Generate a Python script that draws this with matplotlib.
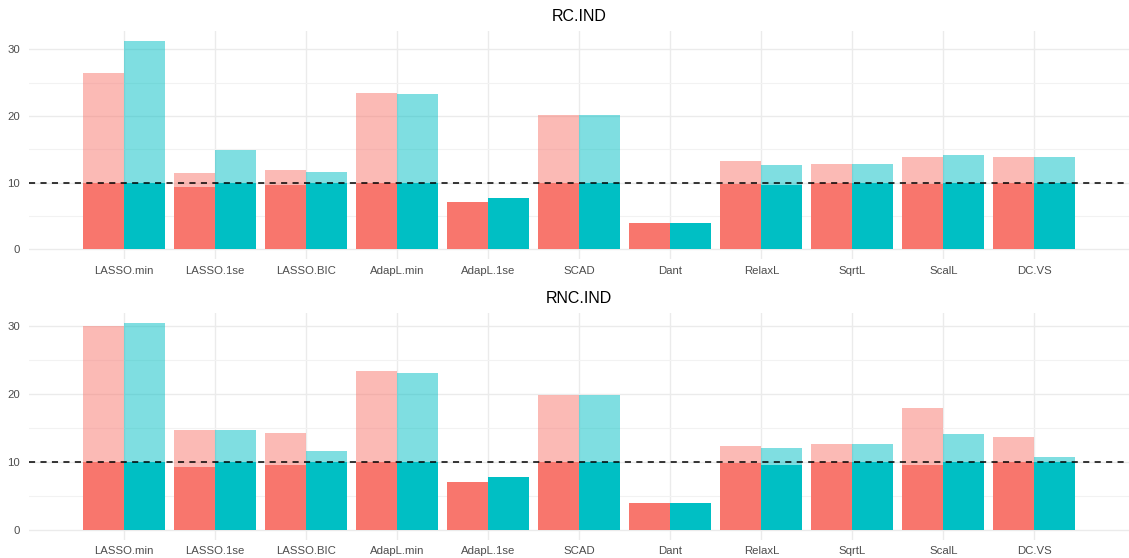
import numpy as np
import matplotlib
matplotlib.use("Agg")
import matplotlib.pyplot as plt

plt.rcParams['font.family'] = ['Liberation Sans', 'DejaVu Sans']

methods = ['LASSO.min', 'LASSO.1se', 'LASSO.BIC', 'AdapL.min', 'AdapL.1se', 'SCAD',
           'Dant', 'RelaxL', 'SqrtL', 'ScalL', 'DC.VS']
titles = ['RC.IND', 'RNC.IND']

# model size (light bar) and true positives (solid bar) per method
rc_red_size = [26.4, 11.4, 11.9, 23.4, 7.1, 20.1, 3.9, 13.2, 12.8, 13.8, 13.8]
rc_red_tp = [10, 9.3, 9.7, 10, 7.1, 10, 3.9, 9.8, 10, 9.8, 10]
rc_teal_size = [31.2, 14.9, 11.6, 23.3, 7.7, 20.1, 3.9, 12.6, 12.8, 14.1, 13.8]
rc_teal_tp = [10, 10, 10, 10, 7.7, 10, 3.9, 9.6, 10, 10, 10]

rnc_red_size = [30.0, 14.75, 14.2, 23.45, 7.0, 19.9, 3.9, 12.4, 12.7, 18.0, 13.75]
rnc_red_tp = [10, 9.2, 9.5, 10, 7.0, 10, 3.9, 9.8, 10, 9.6, 10]
rnc_teal_size = [30.5, 14.75, 11.55, 23.15, 7.7, 19.9, 3.9, 12.0, 12.7, 14.05, 10.7]
rnc_teal_tp = [10, 10, 10, 10, 7.7, 10, 3.9, 9.6, 10, 10, 10]

true_size = 10
red, teal = '#F8766D', '#00BFC4'

panels = [
    (rc_red_size, rc_red_tp, rc_teal_size, rc_teal_tp),
    (rnc_red_size, rnc_red_tp, rnc_teal_size, rnc_teal_tp),
]

fig = plt.figure(figsize=(11.29, 5.58), dpi=100)
boxes = [[0.0254, 0.535, 0.9746, 0.4094], [0.0254, 0.0323, 0.9746, 0.4073]]

x = np.arange(len(methods))
w = 0.45

for box, title, (rs, rt, ts, tt) in zip(boxes, titles, panels):
    ax = fig.add_axes(box)
    ax.bar(x - w / 2, rs, w, color=red, alpha=0.5, linewidth=0, zorder=2)
    ax.bar(x + w / 2, ts, w, color=teal, alpha=0.5, linewidth=0, zorder=2)
    ax.bar(x - w / 2, rt, w, color=red, linewidth=0, zorder=3)
    ax.bar(x + w / 2, tt, w, color=teal, linewidth=0, zorder=3)
    ax.axhline(true_size, color='black', linestyle=(0, (4, 3.5)), linewidth=1.1, zorder=4)

    top = max(max(rs), max(ts))
    ax.set_ylim(-0.05 * top, top * 1.05)
    ax.set_xlim(-1.05, 11.04)
    ax.set_xticks(x)
    ax.set_xticklabels(methods, fontsize=8.2, color='#4D4D4D')
    ax.set_yticks([0, 10, 20, 30])
    ax.set_yticks([5, 15, 25], minor=True)
    ax.tick_params(axis='both', which='both', length=0, labelsize=8.2, labelcolor='#4D4D4D')
    ax.tick_params(axis='x', pad=4.5)
    ax.tick_params(axis='y', pad=6)
    ax.grid(True, which='major', color='#EBEBEB', linewidth=1.0, zorder=0)
    ax.grid(True, which='minor', axis='y', color='#F2F2F2', linewidth=0.8, zorder=0)
    ax.set_axisbelow(True)
    for s in ax.spines.values():
        s.set_visible(False)
    ax.set_title(title, fontsize=11.5, color='black', pad=7)

fig.savefig('out.png', dpi=100)
